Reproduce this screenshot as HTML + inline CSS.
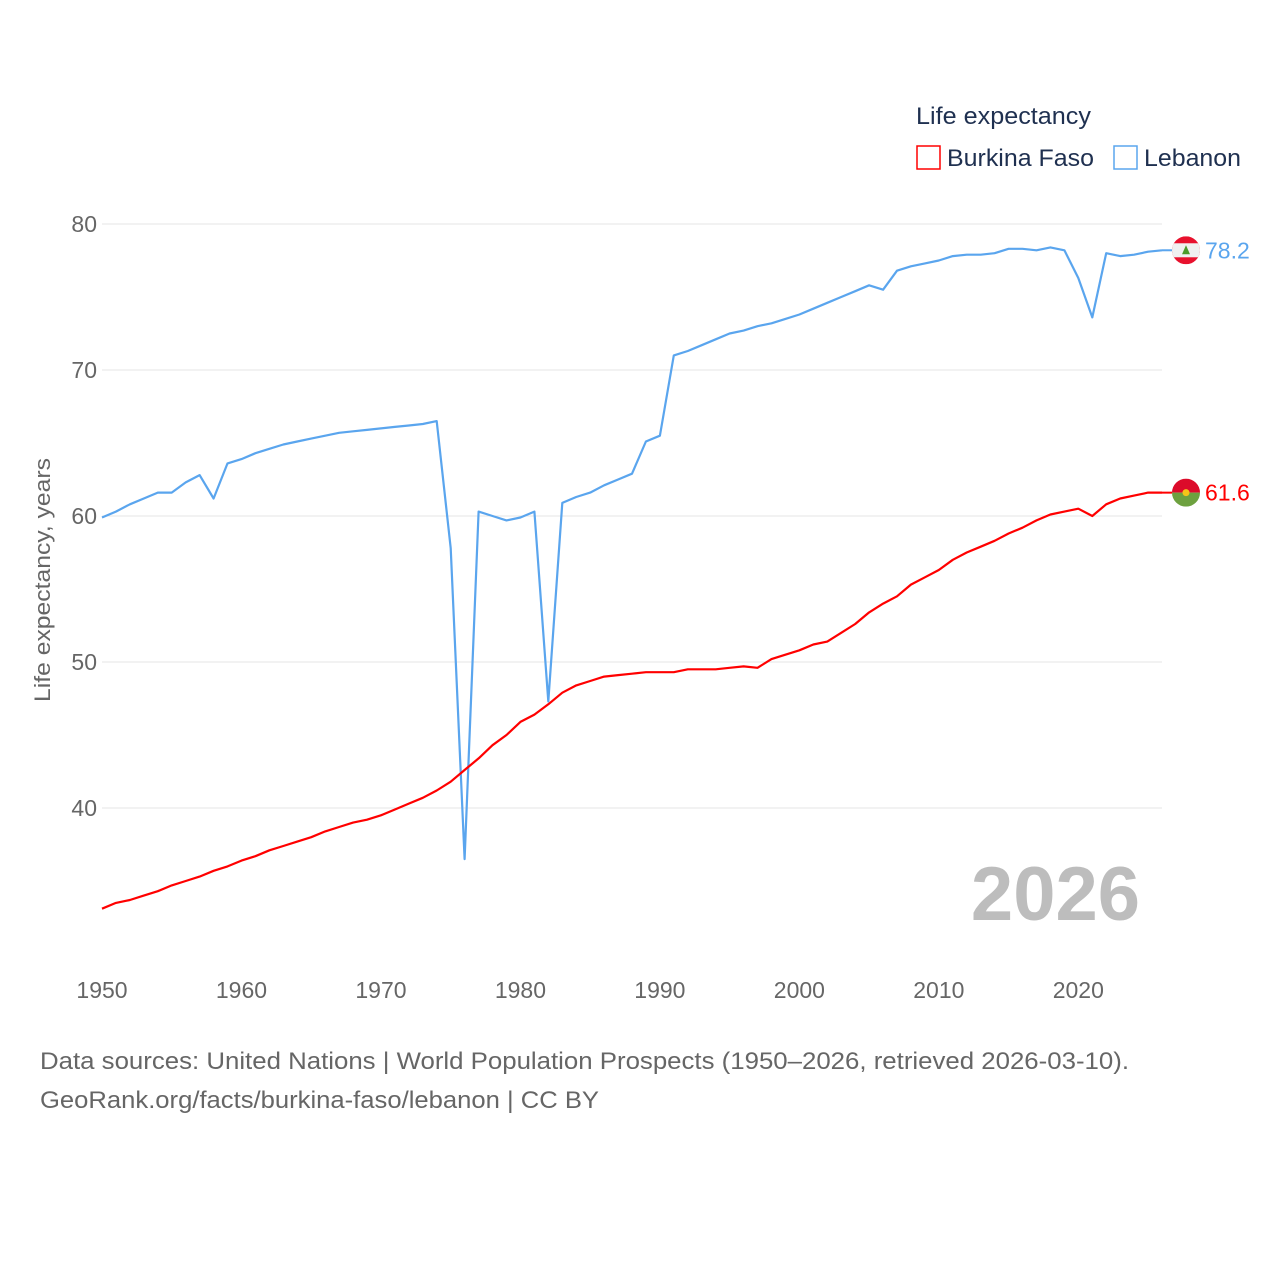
<!DOCTYPE html>
<html><head><meta charset="utf-8">
<style>
body{margin:0;background:#fff;width:1280px;height:1280px;overflow:hidden;font-family:"Liberation Sans",sans-serif;}
svg text{font-family:"Liberation Sans",sans-serif;}
</style></head>
<body>
<svg id="chart" width="1280" height="1280" viewBox="0 0 1280 1280" xmlns="http://www.w3.org/2000/svg">
  <g id="grid"></g>
  <g id="yticks"></g>
  <g id="xticks"></g>
  <text x="0" y="0" transform="translate(50,580) rotate(-90)" text-anchor="middle" font-size="22" fill="#666" textLength="244" lengthAdjust="spacingAndGlyphs">Life expectancy, years</text>
  <text x="1140" y="920" text-anchor="end" font-size="76" font-weight="bold" fill="#bdbdbd">2026</text>
  <g id="series"></g>
  <g>
    <text x="916" y="124" font-size="24" fill="#1f3050" textLength="175" lengthAdjust="spacingAndGlyphs">Life expectancy</text>
    <g>
      <rect x="917" y="146" width="23" height="23" fill="none" stroke="#ff0000" stroke-width="1.5"/>
      <text x="947" y="166" font-size="24" fill="#1f3050" textLength="147" lengthAdjust="spacingAndGlyphs">Burkina Faso</text>
    </g>
    <g>
      <rect x="1114" y="146" width="23" height="23" fill="none" stroke="#5aa5ee" stroke-width="1.5"/>
      <text x="1144" y="166" font-size="24" fill="#1f3050" textLength="97" lengthAdjust="spacingAndGlyphs">Lebanon</text>
    </g>
  </g>
  <text x="40" y="1069" font-size="24" fill="#666" textLength="1089" lengthAdjust="spacingAndGlyphs">Data sources: United Nations | World Population Prospects (1950–2026, retrieved 2026-03-10).</text>
  <text x="40" y="1108" font-size="24" fill="#666" textLength="559" lengthAdjust="spacingAndGlyphs">GeoRank.org/facts/burkina-faso/lebanon | CC BY</text>
</svg>
<script>
const years = [];
for (let y = 1950; y <= 2026; y++) years.push(y);
const lebanon = [59.9,60.3,60.8,61.2,61.6,61.6,62.3,62.8,61.2,63.6,63.9,64.3,64.6,64.9,65.1,65.3,65.5,65.7,65.8,65.9,66.0,66.1,66.2,66.3,66.5,57.8,36.5,60.3,60.0,59.7,59.9,60.3,47.3,60.9,61.3,61.6,62.1,62.5,62.9,65.1,65.5,71.0,71.3,71.7,72.1,72.5,72.7,73.0,73.2,73.5,73.8,74.2,74.6,75.0,75.4,75.8,75.5,76.8,77.1,77.3,77.5,77.8,77.9,77.9,78.0,78.3,78.3,78.2,78.4,78.2,76.3,73.6,78.0,77.8,77.9,78.1,78.2];
const burkina = [33.1,33.5,33.7,34.0,34.3,34.7,35.0,35.3,35.7,36.0,36.4,36.7,37.1,37.4,37.7,38.0,38.4,38.7,39.0,39.2,39.5,39.9,40.3,40.7,41.2,41.8,42.6,43.4,44.3,45.0,45.9,46.4,47.1,47.9,48.4,48.7,49.0,49.1,49.2,49.3,49.3,49.3,49.5,49.5,49.5,49.6,49.7,49.6,50.2,50.5,50.8,51.2,51.4,52.0,52.6,53.4,54.0,54.5,55.3,55.8,56.3,57.0,57.5,57.9,58.3,58.8,59.2,59.7,60.1,60.3,60.5,60.0,60.8,61.2,61.4,61.6,61.6];
const yTicks = [40,50,60,70,80];
const xTicks = [1950,1960,1970,1980,1990,2000,2010,2020];

const NS = "http://www.w3.org/2000/svg";
const X0 = 102, X1 = 1162;
const xScale = yr => X0 + (yr - 1950) * (X1 - X0) / (2026 - 1950);
const yScale = v => 224 + (80 - v) * 14.6;
function mk(tag, attrs, parent){const e=document.createElementNS(NS,tag);for(const k in attrs)e.setAttribute(k,attrs[k]);parent.appendChild(e);return e;}

const grid = document.getElementById('grid');
const yt = document.getElementById('yticks');
yTicks.forEach(v=>{
  const l = mk('line',{x1:102,x2:1162,y1:yScale(v),y2:yScale(v),stroke:'#e6e6e6','stroke-width':1},grid);
  
  
  const t = mk('text',{x:97,y:yScale(v)+8,'text-anchor':'end','font-size':23,fill:'#666'},yt);
  
  
  t.textContent = v;
});
const xt = document.getElementById('xticks');
xTicks.forEach(yr=>{
  const t = mk('text',{x:xScale(yr),y:998,'text-anchor':'middle','font-size':23,fill:'#666'},xt);
  
  
  t.textContent = yr;
});

const series = document.getElementById('series');
function drawLine(vals,color,name){
  const d = vals.map((v,i)=>(i?'L':'M')+xScale(years[i]).toFixed(1)+','+yScale(v).toFixed(1)).join(' ');
  const p = mk('path',{d:d,fill:'none',stroke:color,'stroke-width':2.2,'stroke-linejoin':'round'},series);
  
  
  const last = vals[vals.length-1];
  const ly = yScale(last);
  mk('line',{x1:X1,x2:1172,y1:ly,y2:ly,stroke:color,'stroke-width':2},series);
  const g = mk('g',{},series);
  
  
  const cx=1186, r=14;
  const clipId='clip-'+name;
  const cp = mk('clipPath',{id:clipId},g);
  mk('circle',{cx:cx,cy:ly,r:r},cp);
  const fg = mk('g',{'clip-path':'url(#'+clipId+')'},g);
  if(name==='lebanon'){
    mk('rect',{x:cx-r,y:ly-r,width:2*r,height:2*r,fill:'#e8112d'},fg);
    mk('rect',{x:cx-r,y:ly-r+7,width:2*r,height:14,fill:'#f0f0f0'},fg);
    mk('polygon',{points:`${cx},${ly-5} ${cx-4},${ly+4} ${cx+4},${ly+4}`,fill:'#4c9a2a'},fg);
  } else {
    mk('rect',{x:cx-r,y:ly-r,width:2*r,height:r,fill:'#dc0b2a'},fg);
    mk('rect',{x:cx-r,y:ly,width:2*r,height:r,fill:'#6da13f'},fg);
    mk('circle',{cx:cx,cy:ly,r:3.5,fill:'#f5c518'},fg);
  }
  const t = mk('text',{x:1205,y:ly+8,'font-size':23,fill:color},series);
  
  
  t.textContent = last.toFixed(1);
}
drawLine(lebanon,'#5aa5ee','lebanon');
drawLine(burkina,'#ff0000','burkina-faso');
</script>
</body></html>
